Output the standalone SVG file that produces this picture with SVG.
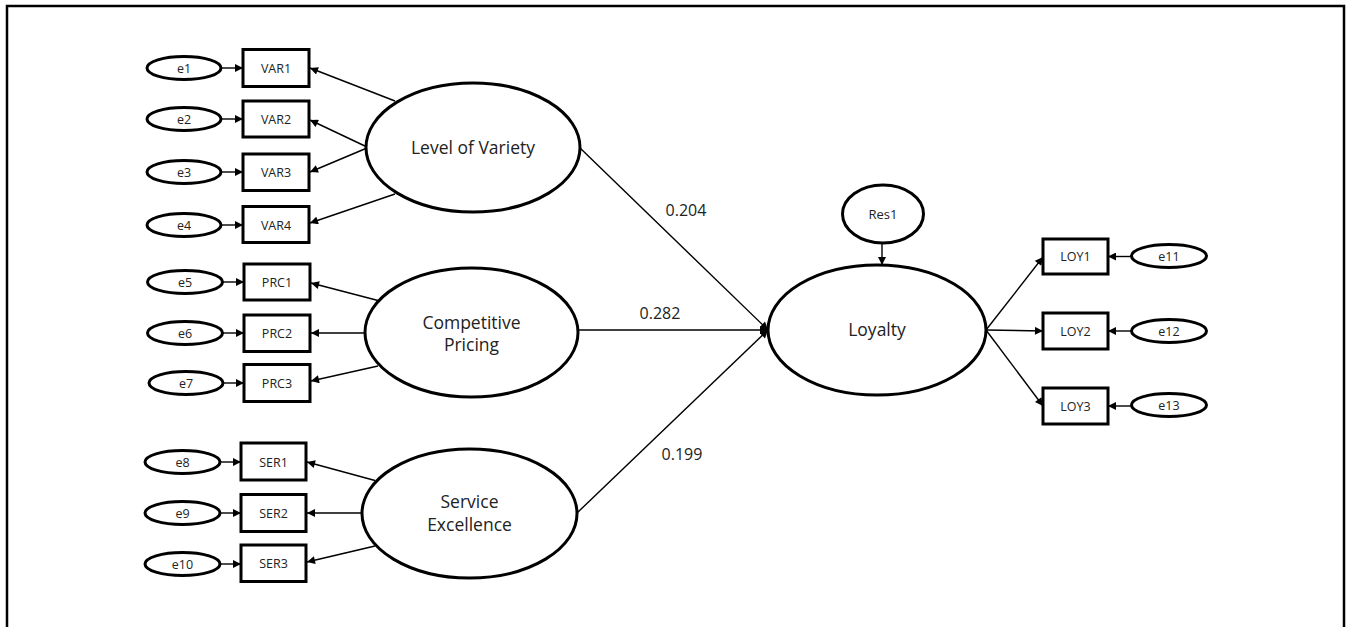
<svg xmlns="http://www.w3.org/2000/svg" width="1348" height="627" viewBox="0 0 1348 627">
<defs>
<style>
.lat{fill:#fff;stroke:#000;stroke-width:3}
.err{fill:#fff;stroke:#000;stroke-width:3}
.obs{fill:#fff;stroke:#000;stroke-width:3}
.con{stroke:#000;stroke-width:1.4;fill:none;marker-end:url(#ah)}
.big{font-family:"Open Sans","Noto Sans",sans-serif;font-size:17.5px;fill:#222;text-anchor:middle}
.sm{font-family:"Open Sans","Noto Sans",sans-serif;font-size:12.5px;fill:#222;text-anchor:middle}
.coef{font-family:"Open Sans","Noto Sans",sans-serif;font-size:16px;fill:#222;text-anchor:middle}
</style>
<marker id="ah" viewBox="0 0 10 10" refX="10" refY="5" markerUnits="userSpaceOnUse" markerWidth="9" markerHeight="8" orient="auto">
<path d="M0,0 L10,5 L0,10 z" fill="#000"/>
</marker>
</defs>
<rect width="1348" height="627" fill="#fff"/>
<path d="M7,627 V6 H1344 V627" fill="none" stroke="#000" stroke-width="2.5"/>

<g id="connectors">
<line class="con" x1="221" y1="68" x2="243" y2="68"/>
<line class="con" x1="221" y1="119" x2="243" y2="119"/>
<line class="con" x1="221" y1="172" x2="243" y2="172"/>
<line class="con" x1="221" y1="225" x2="243" y2="225"/>
<line class="con" x1="222" y1="282" x2="244" y2="282"/>
<line class="con" x1="222" y1="333" x2="244" y2="333"/>
<line class="con" x1="223" y1="383" x2="244" y2="383"/>
<line class="con" x1="220" y1="462" x2="241" y2="462"/>
<line class="con" x1="220" y1="513" x2="241" y2="513"/>
<line class="con" x1="220" y1="564" x2="241" y2="564"/>
<line class="con" x1="1131" y1="256.5" x2="1108" y2="256.5"/>
<line class="con" x1="1131" y1="331" x2="1108" y2="331"/>
<line class="con" x1="1131" y1="406" x2="1108" y2="406"/>
<line class="con" x1="395" y1="101" x2="310" y2="68"/>
<line class="con" x1="367" y1="147" x2="310" y2="120"/>
<line class="con" x1="367" y1="148" x2="310" y2="172"/>
<line class="con" x1="395" y1="194" x2="310" y2="223"/>
<line class="con" x1="378" y1="300.5" x2="311" y2="283"/>
<line class="con" x1="366" y1="333" x2="311" y2="333"/>
<line class="con" x1="378" y1="366" x2="311" y2="381"/>
<line class="con" x1="375" y1="480.5" x2="307" y2="462"/>
<line class="con" x1="363" y1="513" x2="307" y2="513"/>
<line class="con" x1="375" y1="546" x2="307" y2="562"/>
<line class="con" x1="579" y1="147" x2="768" y2="330"/>
<line class="con" x1="578" y1="330" x2="768" y2="330"/>
<line class="con" x1="577" y1="513" x2="768" y2="330"/>
<line class="con" x1="882" y1="243" x2="882" y2="265"/>
<line class="con" x1="986" y1="330" x2="1043" y2="257"/>
<line class="con" x1="986" y1="330" x2="1043" y2="331"/>
<line class="con" x1="986" y1="330" x2="1043" y2="406"/>
</g>

<g id="labels">
<text class="coef" x="686" y="215.5">0.204</text>
<text class="coef" x="660" y="319">0.282</text>
<text class="coef" x="682" y="460">0.199</text>
</g>

<g id="variety"><ellipse class="lat" cx="473" cy="147.5" rx="107" ry="64.5"/><text class="big" x="473" y="153.5">Level of Variety</text></g>
<g id="pricing"><ellipse class="lat" cx="471.5" cy="332.5" rx="106.5" ry="64.5"/><text class="big" x="471.5" y="329">Competitive</text><text class="big" x="471.5" y="351">Pricing</text></g>
<g id="service"><ellipse class="lat" cx="469.5" cy="513.5" rx="107.5" ry="64.5"/><text class="big" x="469.5" y="508">Service</text><text class="big" x="469.5" y="531">Excellence</text></g>
<g id="loyalty"><ellipse class="lat" cx="877" cy="330" rx="109" ry="65"/><text class="big" x="877" y="336">Loyalty</text></g>
<g id="res1"><ellipse class="lat" cx="883" cy="214" rx="40.5" ry="29"/><text class="sm" style="font-size:13px" x="883" y="218.5">Res1</text></g>

<g id="VAR1"><rect class="obs" x="243" y="49.5" width="66" height="37"/><text class="sm" x="276" y="72.5">VAR1</text></g>
<g id="VAR2"><rect class="obs" x="243" y="101" width="66" height="36"/><text class="sm" x="276" y="123.5">VAR2</text></g>
<g id="VAR3"><rect class="obs" x="243" y="154" width="66" height="36.5"/><text class="sm" x="276" y="177">VAR3</text></g>
<g id="VAR4"><rect class="obs" x="243" y="206.5" width="66" height="36"/><text class="sm" x="276" y="229.5">VAR4</text></g>
<g id="PRC1"><rect class="obs" x="244" y="264" width="66" height="36"/><text class="sm" x="277" y="287">PRC1</text></g>
<g id="PRC2"><rect class="obs" x="244" y="315" width="66" height="36.5"/><text class="sm" x="277" y="338">PRC2</text></g>
<g id="PRC3"><rect class="obs" x="244" y="364.5" width="66" height="37"/><text class="sm" x="277" y="387.5">PRC3</text></g>
<g id="SER1"><rect class="obs" x="241" y="443" width="65" height="37"/><text class="sm" x="273.5" y="466.5">SER1</text></g>
<g id="SER2"><rect class="obs" x="241" y="494.5" width="65" height="37"/><text class="sm" x="273.5" y="518">SER2</text></g>
<g id="SER3"><rect class="obs" x="241" y="545" width="65" height="36.5"/><text class="sm" x="273.5" y="568">SER3</text></g>
<g id="LOY1"><rect class="obs" x="1043" y="239" width="65" height="35"/><text class="sm" x="1075.5" y="261">LOY1</text></g>
<g id="LOY2"><rect class="obs" x="1043" y="313" width="65" height="36"/><text class="sm" x="1075.5" y="335.5">LOY2</text></g>
<g id="LOY3"><rect class="obs" x="1043" y="388" width="65" height="36"/><text class="sm" x="1075.5" y="410.5">LOY3</text></g>

<g id="e1"><ellipse class="err" cx="184" cy="68" rx="37" ry="11.5"/><text class="sm" x="184" y="72.5">e1</text></g>
<g id="e2"><ellipse class="err" cx="184" cy="119" rx="37" ry="11.5"/><text class="sm" x="184" y="123.5">e2</text></g>
<g id="e3"><ellipse class="err" cx="184" cy="172" rx="37" ry="11.5"/><text class="sm" x="184" y="176.5">e3</text></g>
<g id="e4"><ellipse class="err" cx="184" cy="225" rx="37" ry="11.5"/><text class="sm" x="184" y="229.5">e4</text></g>
<g id="e5"><ellipse class="err" cx="185" cy="282" rx="37.5" ry="11.5"/><text class="sm" x="185" y="286.5">e5</text></g>
<g id="e6"><ellipse class="err" cx="185" cy="333" rx="37.5" ry="11.5"/><text class="sm" x="185" y="337.5">e6</text></g>
<g id="e7"><ellipse class="err" cx="186" cy="383" rx="37" ry="11.5"/><text class="sm" x="186" y="387.5">e7</text></g>
<g id="e8"><ellipse class="err" cx="182.5" cy="462" rx="37.5" ry="11.5"/><text class="sm" x="182.5" y="466.5">e8</text></g>
<g id="e9"><ellipse class="err" cx="182.5" cy="513" rx="37.5" ry="11.5"/><text class="sm" x="182.5" y="517.5">e9</text></g>
<g id="e10"><ellipse class="err" cx="182.5" cy="564" rx="37.5" ry="11.5"/><text class="sm" x="182.5" y="568.5">e10</text></g>
<g id="e11"><ellipse class="err" cx="1169" cy="256" rx="37.5" ry="11.5"/><text class="sm" x="1169" y="260.5">e11</text></g>
<g id="e12"><ellipse class="err" cx="1169" cy="331" rx="37.5" ry="11.5"/><text class="sm" x="1169" y="335.5">e12</text></g>
<g id="e13"><ellipse class="err" cx="1169" cy="405" rx="37.5" ry="11.5"/><text class="sm" x="1169" y="409.5">e13</text></g>
</svg>
